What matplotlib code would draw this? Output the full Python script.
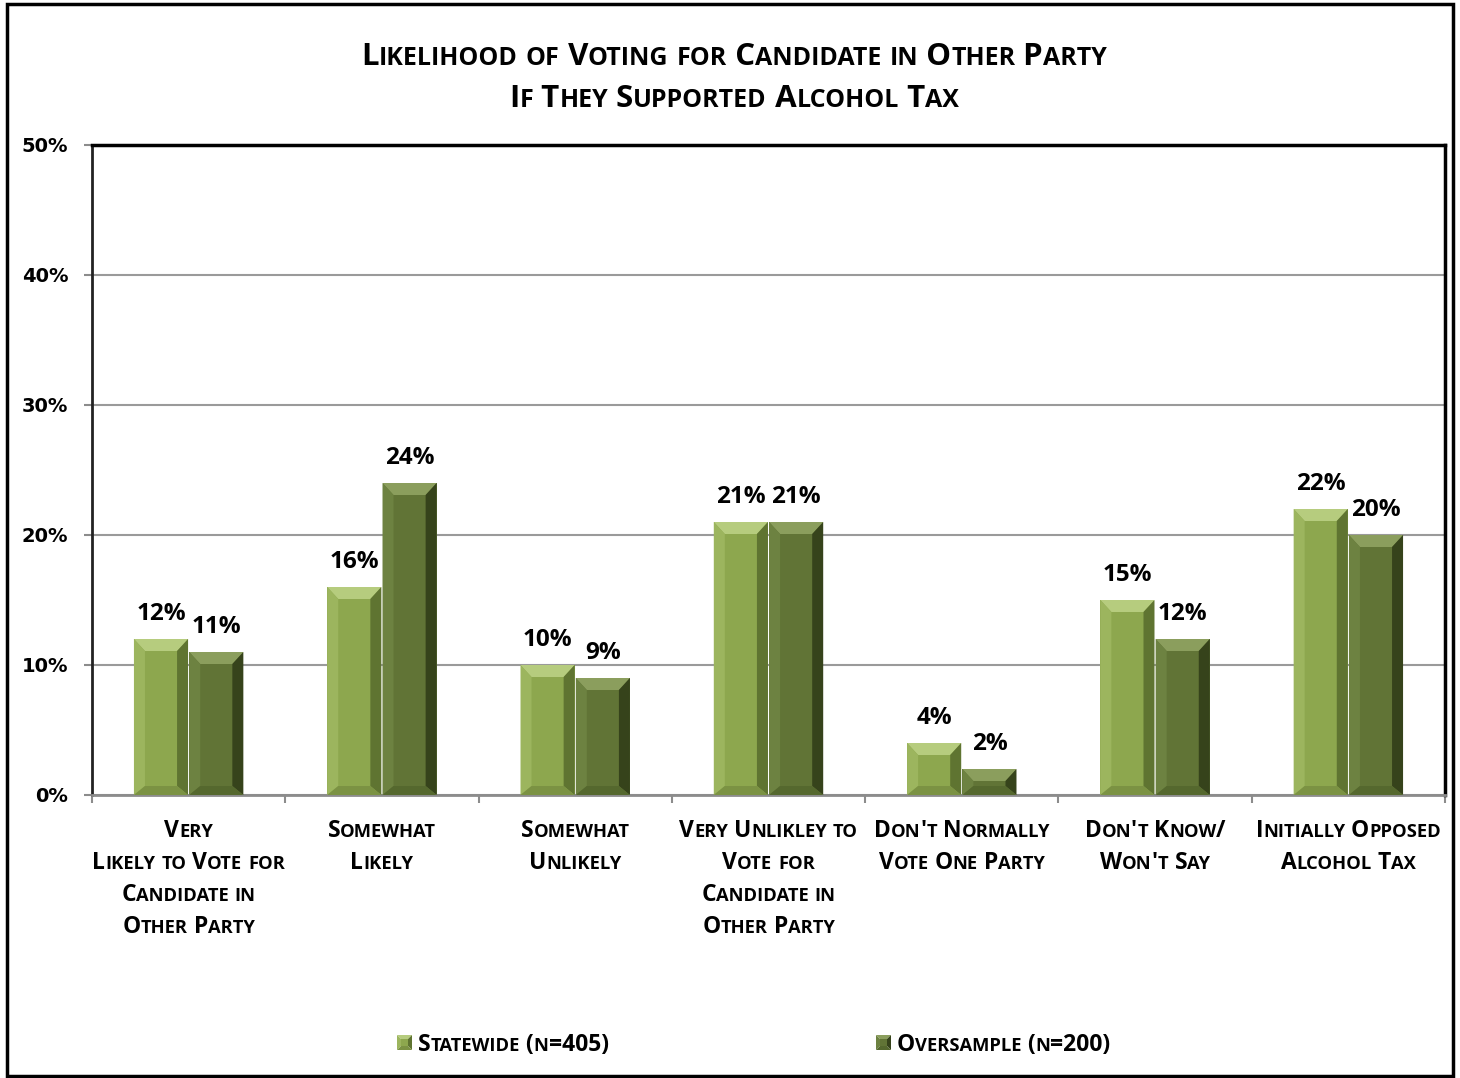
import matplotlib
matplotlib.use("Agg")
import matplotlib.pyplot as plt
from matplotlib.patches import Polygon, Rectangle
from matplotlib.font_manager import FontProperties

# ---------------- data ----------------
categories = [
    ["Very", "Likely to Vote for", "Candidate in", "Other Party"],
    ["Somewhat", "Likely"],
    ["Somewhat", "Unlikely"],
    ["Very Unlikley to", "Vote for", "Candidate in", "Other Party"],
    ["Don't Normally", "Vote One Party"],
    ["Don't Know/", "Won't Say"],
    ["Initially Opposed", "Alcohol Tax"],
]
statewide = [12, 16, 10, 21, 4, 15, 22]
oversample = [11, 24, 9, 21, 2, 12, 20]
series_names = ["Statewide (n=405)", "Oversample (n=200)"]
title_lines = ["Likelihood of Voting for Candidate in Other Party",
               "If They Supported Alcohol Tax"]
yticks = [0, 10, 20, 30, 40, 50]
ytick_labels = ["0%", "10%", "20%", "30%", "40%", "50%"]

# ---------------- style ----------------
W, H = 1460, 1078
FAM = "Open Sans"
col_sw = dict(front="#8DA74E", top="#B6CC7E", left="#9CB55E", right="#5F7431", bottom="#7B9243")
col_os = dict(front="#617436", top="#8B9E5D", left="#6D8241", right="#36431B", bottom="#55682E")

fig = plt.figure(figsize=(W / 100, H / 100), dpi=100)
fig.patch.set_facecolor("white")

ax_l, ax_r, ax_t, ax_b = 92, 1445, 145, 795
ax = fig.add_axes([ax_l / W, 1 - ax_b / H, (ax_r - ax_l) / W, (ax_b - ax_t) / H])

n = len(categories)
xs = list(range(n))
bw = 0.28
off = 0.143
bars_sw = ax.bar([x - off for x in xs], statewide, width=bw, color=col_sw["front"],
                 edgecolor="none", zorder=2)
bars_os = ax.bar([x + off for x in xs], oversample, width=bw, color=col_os["front"],
                 edgecolor="none", zorder=2)

ax.set_xlim(-0.5, n - 0.5)
ax.set_ylim(0, 50)
ax.set_yticks(yticks)
ax.set_yticklabels(ytick_labels, fontfamily="DejaVu Sans", fontweight="bold", fontsize=14)
ax.tick_params(axis="y", direction="out", length=6, color="#8c8c8c", width=1.5, pad=11)
ax.set_xticks([])
ax.set_xticks([i - 0.5 for i in range(n + 1)], minor=True)
ax.tick_params(axis="x", which="minor", direction="out", length=6, color="#8c8c8c", width=1.5)
ax.grid(axis="y", color="#9a9a9a", linewidth=1.5)
ax.set_axisbelow(True)

for s in ["top", "right"]:
    ax.spines[s].set_color("black")
    ax.spines[s].set_linewidth(2.5)
ax.spines["left"].set_color("#222222")
ax.spines["left"].set_linewidth(2.0)
ax.spines["bottom"].set_color("#8c8c8c")
ax.spines["bottom"].set_linewidth(2.0)

fig.canvas.draw()
renderer = fig.canvas.get_renderer()
bb = ax.get_window_extent(renderer)
pxx = bb.width / (n)
pxy = bb.height / 50.0

# bevels
def bevel(p, c):
    x0, w, h = p.get_x(), p.get_width(), p.get_height()
    bx = 11 / pxx
    bt = 12 / pxy
    bbm = 9 / pxy
    polys = [
        ([(x0, h), (x0 + w, h), (x0 + w - bx, h - bt), (x0 + bx, h - bt)], c["top"]),
        ([(x0, 0), (x0, h), (x0 + bx, h - bt), (x0 + bx, bbm)], c["left"]),
        ([(x0 + w, 0), (x0 + w, h), (x0 + w - bx, h - bt), (x0 + w - bx, bbm)], c["right"]),
        ([(x0, 0), (x0 + w, 0), (x0 + w - bx, bbm), (x0 + bx, bbm)], c["bottom"]),
    ]
    for pts, fc in polys:
        ax.add_patch(Polygon(pts, closed=True, facecolor=fc, edgecolor="none", zorder=3))

for p in bars_sw:
    bevel(p, col_sw)
for p in bars_os:
    bevel(p, col_os)

for bars, vals in [(bars_sw, statewide), (bars_os, oversample)]:
    for p, v in zip(bars, vals):
        ax.annotate(f"{v}%", xy=(p.get_x() + p.get_width() / 2, p.get_height()),
                    xytext=(0, 19), textcoords="offset pixels", ha="center", va="baseline",
                    fontsize=17.5, fontweight="bold", fontfamily=FAM, zorder=5)

# ---------------- small caps helper ----------------
def runs_of(text):
    runs = []
    for ch in text:
        small = ch.islower()
        c = ch.upper()
        if runs and runs[-1][1] == small:
            runs[-1][0] += c
        else:
            runs.append([c, small])
    return runs

def twidth(s, size):
    prop = FontProperties(family=FAM, weight="bold", size=size)
    w1 = renderer.get_text_width_height_descent(s + "|", prop, False)[0]
    w0 = renderer.get_text_width_height_descent("|", prop, False)[0]
    return w1 - w0

def smallcaps(x_px, base_px, text, size, ratio=0.8, ha="center"):
    runs = runs_of(text)
    widths = [twidth(r, size * ratio if sm else size) for r, sm in runs]
    total = sum(widths)
    if ha == "center":
        x = x_px - total / 2
    else:
        x = x_px
    for (r, sm), w in zip(runs, widths):
        fig.text(x / W, 1 - base_px / H, r, fontsize=size * ratio if sm else size,
                 fontweight="bold", fontfamily=FAM, ha="left", va="baseline")
        x += w
    return total

# title
smallcaps(734, 65, title_lines[0], 22.5)
smallcaps(734, 107, title_lines[1], 22.5)

# category labels
for i, lines in enumerate(categories):
    cx = ax_l + (i + 0.5) * (ax_r - ax_l) / n
    for j, line in enumerate(lines):
        smallcaps(cx, 837 + 32 * j, line, 16.5)

# legend
leg_items = [(397, series_names[0], col_sw), (876, series_names[1], col_os)]
for x0, name, c in leg_items:
    y0 = 1035
    s = 15
    tl = (x0 / W, 1 - y0 / H)
    tr = ((x0 + s) / W, 1 - y0 / H)
    br = ((x0 + s) / W, 1 - (y0 + s) / H)
    bl = (x0 / W, 1 - (y0 + s) / H)
    inset = 4
    itl = ((x0 + inset) / W, 1 - (y0 + inset) / H)
    itr = ((x0 + s - inset) / W, 1 - (y0 + inset) / H)
    ibr = ((x0 + s - inset) / W, 1 - (y0 + s - inset) / H)
    ibl = ((x0 + inset) / W, 1 - (y0 + s - inset) / H)
    for pts, fc in [([tl, tr, itr, itl], c["top"]), ([tl, bl, ibl, itl], c["left"]),
                    ([tr, br, ibr, itr], c["right"]), ([bl, br, ibr, ibl], c["bottom"]),
                    ([itl, itr, ibr, ibl], c["front"])]:
        fig.patches.append(Polygon(pts, closed=True, facecolor=fc, edgecolor="none",
                                   transform=fig.transFigure, figure=fig))
    smallcaps(x0 + 21, 1051, name, 16.5, ha="left")

# outer frame
fig.patches.append(Rectangle((7 / W, 1 - 1076 / H), (1453 - 7) / W, (1076 - 4) / H,
                             transform=fig.transFigure, facecolor="none", edgecolor="black",
                             linewidth=2.5, figure=fig))

fig.savefig("out.png", dpi=100)
